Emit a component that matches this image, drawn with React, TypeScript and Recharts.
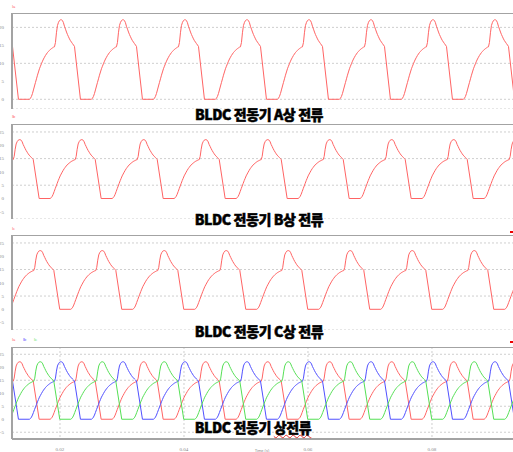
import React from "react";
import { LineChart, Line, XAxis, YAxis, CartesianGrid, ReferenceLine } from "recharts";

// one cycle of the phase current (ms from the peak, amps)
const cycleMs = [
  -1.13, -0.97, -0.81, -0.65, -0.48, -0.32, -0.16, 0, 0.16, 0.32, 0.48, 0.65, 0.81, 0.97,
  1.13, 1.29, 1.45, 1.61, 1.77, 1.94, 2.1, 3.06, 4.84, 5.0, 5.16, 5.32, 5.48, 5.65, 5.81,
  5.97, 6.13, 6.29, 6.45, 6.61, 6.77, 6.94, 7.1, 7.26, 7.42, 7.58, 7.74, 7.9, 8.06, 8.23,
  8.39, 8.55, 8.71,
];
const cycleAmp = [
  14.6, 15.8, 18.5, 20.5, 21.4, 21.9, 22.1, 22.1, 21.9, 21.3, 20.3, 19.5, 18.7, 18.0,
  17.4, 16.8, 16.3, 15.9, 15.5, 15.1, 14.7, 0, 0, 0.3, 0.8, 1.6, 2.6, 3.7, 4.7,
  5.7, 6.7, 7.6, 8.5, 9.2, 9.9, 10.6, 11.2, 11.7, 12.2, 12.6, 13.0, 13.3, 13.6, 13.9,
  14.1, 14.3, 14.5,
];
const PERIOD_S = 0.01;
const peakA = 0.02024;
const peakB = 0.02358;
const peakC = 0.0169;

const T_MIN = 0.01226;
const T_MAX = 0.09581;
const timeTicks = [0.02, 0.04, 0.06, 0.08];
const timeLabels = ["0.02", "0.04", "0.06", "0.08"];
const ticksFirst = [0, 5, 10, 15, 20];
const ticksOther = [-5, 0, 5, 10, 15, 20, 25];

function buildWave(peak: number) {
  const pts: { t: number; v: number }[] = [];
  for (let k = -2; k <= 9; k++) {
    cycleMs.forEach((ms, i) => {
      const t = peak + k * PERIOD_S + ms / 1000;
      if (t >= T_MIN - 0.004 && t <= T_MAX + 0.004) pts.push({ t, v: cycleAmp[i] });
    });
  }
  return pts;
}

const waveA = buildWave(peakA);
const waveB = buildWave(peakB);
const waveC = buildWave(peakC);

const RED = "#ff6464";
const BLUE = "#5050ff";
const GREEN = "#55e055";
const FRAME = "#a3a3a3";

type Series = { data: { t: number; v: number }[]; color: string; name: string };

function Panel({
  top,
  height,
  domain,
  ticks,
  series,
  showTime,
}: {
  top: number;
  height: number;
  domain: [number, number];
  ticks: number[];
  series: Series[];
  showTime?: boolean;
}) {
  const axisH = showTime ? 14 : 0;
  return (
    <div style={{ position: "absolute", left: 0, top }}>
      <LineChart width={530} height={height + axisH} margin={{ top: 0, right: 0, bottom: 0, left: 0 }}>
        <CartesianGrid stroke="#cfcfcf" strokeDasharray="2 2" />
        <XAxis
          dataKey="t"
          type="number"
          domain={[T_MIN, T_MAX]}
          allowDataOverflow
          ticks={timeTicks}
          height={axisH}
          tickLine={false}
          axisLine={{ stroke: FRAME, strokeWidth: 2 }}
          tick={showTime ? { fontSize: 5, fill: "#888" } : false}
          tickFormatter={(v: number) => timeLabels[timeTicks.indexOf(v)] ?? ""}
        />
        <YAxis
          type="number"
          domain={domain}
          allowDataOverflow
          ticks={ticks}
          width={12}
          tickLine={false}
          axisLine={{ stroke: FRAME, strokeWidth: 2 }}
          tick={{ fontSize: 5, fill: "#888" }}
        />
        <ReferenceLine y={domain[1]} stroke={FRAME} strokeWidth={2} ifOverflow="visible" />
        {series.map((s) => (
          <Line
            key={s.name}
            data={s.data}
            dataKey="v"
            name={s.name}
            type="linear"
            stroke={s.color}
            strokeWidth={1}
            dot={false}
            isAnimationActive={false}
          />
        ))}
      </LineChart>
    </div>
  );
}

const titleStyle: React.CSSProperties = {
  position: "absolute",
  left: 259,
  transform: "translate(-50%, -50%)",
  fontFamily: "'Noto Sans CJK KR', sans-serif",
  fontWeight: 900,
  fontSize: 14,
  lineHeight: "16px",
  whiteSpace: "nowrap",
  color: "#000",
  letterSpacing: -0.4,
  WebkitTextStroke: "0.5px #000",
};

const tagStyle = (x: number, y: number, color: string): React.CSSProperties => ({
  position: "absolute",
  left: x,
  top: y,
  fontFamily: "Arial, sans-serif",
  fontSize: 4,
  lineHeight: "4px",
  color,
});

export default function App() {
  return (
    <div
      style={{
        position: "fixed",
        left: 0,
        top: 0,
        width: 513,
        height: 452,
        overflow: "hidden",
        background: "#fff",
      }}
    >
      <Panel top={13} height={96} domain={[-2.7, 24]} ticks={ticksFirst} series={[{ data: waveA, color: RED, name: "Ia" }]} />
      <Panel top={124} height={95} domain={[-7.7, 28]} ticks={ticksOther} series={[{ data: waveB, color: RED, name: "Ib" }]} />
      <Panel top={235} height={95} domain={[-7.8, 28]} ticks={ticksOther} series={[{ data: waveC, color: RED, name: "Ic" }]} />
      <Panel
        top={347}
        height={92}
        domain={[-7.6, 27.8]}
        ticks={ticksOther}
        showTime
        series={[
          { data: waveB, color: RED, name: "Ia" },
          { data: waveA, color: BLUE, name: "Ib" },
          { data: waveC, color: GREEN, name: "Ic" },
        ]}
      />

      <div style={tagStyle(12, 5, RED)}>Ia</div>
      <div style={tagStyle(12, 115, RED)}>Ib</div>
      <div style={tagStyle(12, 227, RED)}>Ic</div>
      <div style={tagStyle(12, 338, RED)}>Ia</div>
      <div style={tagStyle(23, 338, BLUE)}>Ib</div>
      <div style={tagStyle(34, 338, GREEN)}>Ic</div>
      <div style={{ position: "absolute", left: 510, top: 231, width: 3, height: 2, background: "#e00" }} />
      <div style={{ position: "absolute", left: 510, top: 341, width: 3, height: 2, background: "#e00" }} />

      <div style={{ ...titleStyle, top: 114 }}>BLDC 전동기 A상 전류</div>
      <div style={{ ...titleStyle, top: 219 }}>BLDC 전동기 B상 전류</div>
      <div style={{ ...titleStyle, top: 331 }}>BLDC 전동기 C상 전류</div>
      <div style={{ ...titleStyle, top: 427, left: 253 }}>
        BLDC 전동기{" "}
        <span style={{ textDecoration: "underline wavy #e03030", textDecorationThickness: 1, textUnderlineOffset: 1 }}>
          상전류
        </span>
      </div>
      <div
        style={{
          position: "absolute",
          left: 262,
          top: 448,
          transform: "translateX(-50%)",
          fontFamily: "Arial, sans-serif",
          fontSize: 4,
          color: "#888",
        }}
      >
        Time (s)
      </div>
    </div>
  );
}
